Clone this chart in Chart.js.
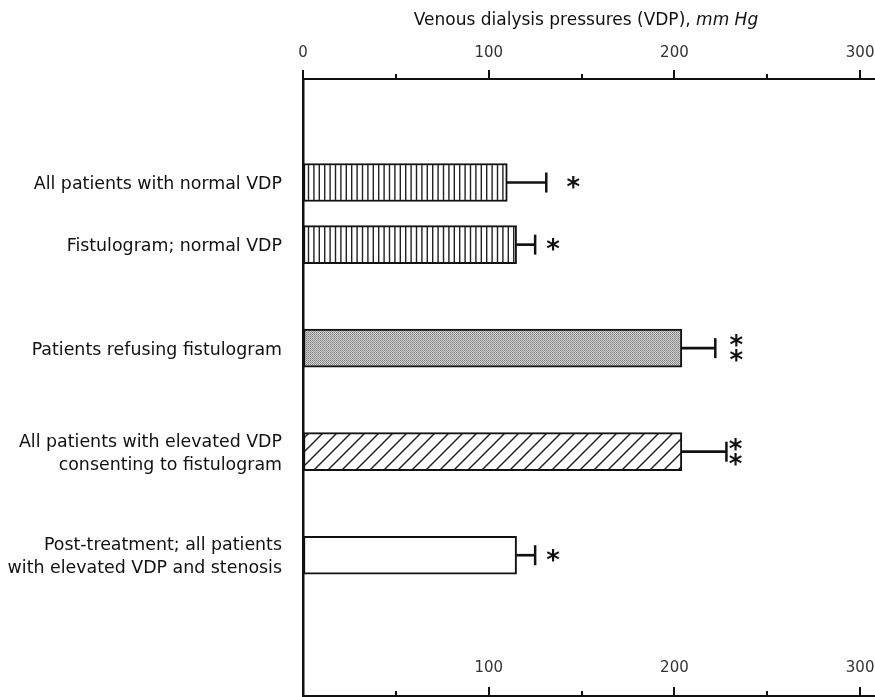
<!DOCTYPE html>
<html><head><meta charset="utf-8">
<script src="https://cdn.jsdelivr.net/npm/chart.js@4.4.1/dist/chart.umd.min.js"></script>
<style>
html,body{margin:0;padding:0;background:#fff;overflow:hidden;}
#wrap{position:relative;width:875px;height:734px;}
#title{position:absolute;left:303px;width:566px;top:9px;text-align:center;font:17px/20px "DejaVu Sans",sans-serif;color:#111;white-space:nowrap;}
canvas{display:block}
</style></head><body>
<div id="wrap">
<canvas id="c" width="875" height="734"></canvas>
<div id="title">Venous dialysis pressures (VDP), <i>mm Hg</i></div>
</div>
<script>
// ---- data ----
const categories = [
  ['All patients with normal VDP'],
  ['Fistulogram; normal VDP'],
  ['Patients refusing fistulogram'],
  ['All patients with elevated VDP', 'consenting to fistulogram'],
  ['Post-treatment; all patients', 'with elevated VDP and stenosis']
];
const meanVDP = [110, 115, 204, 204, 115];
const errorVDP = [21, 10, 18, 24, 10];
const significance = ['*', '*', '**', '**', '*'];
const topTickValues = [0, 100, 200, 300];
const bottomTickValues = [100, 200, 300];
const minorTickValues = [50, 150, 250];

// ---- layout / style ----
const rowPos = [5, 8, 13, 18, 23];
const starGap = [27, 18, 21, 9, 18];
const INK = '#111';

function makePattern(w, h, draw) {
  const c = document.createElement('canvas'); c.width = w; c.height = h;
  const g = c.getContext('2d'); g.fillStyle = '#fff'; g.fillRect(0, 0, w, h); draw(g);
  return document.getElementById('c').getContext('2d').createPattern(c, 'repeat');
}
const vStripes = makePattern(27, 10, g => {
  g.fillStyle = '#222';
  for (let i = 0; i < 5; i++) g.fillRect(i * 5.4, 0, 1.4, 10);
});
const stipple = makePattern(2, 2, g => {
  g.fillStyle = '#7a7a7a'; g.fillRect(0, 0, 1, 1);
  g.fillStyle = '#d2d2d2'; g.fillRect(1, 0, 1, 1); g.fillRect(0, 1, 1, 1);
  g.fillStyle = '#9a9a9a'; g.fillRect(1, 1, 1, 1);
});
const diag = makePattern(14, 14, g => {
  g.strokeStyle = '#222'; g.lineWidth = 1.5;
  g.beginPath(); g.moveTo(-2, 16); g.lineTo(16, -2); g.stroke();
  g.beginPath(); g.moveTo(-16, 16); g.lineTo(2, -2); g.stroke();
  g.beginPath(); g.moveTo(12, 16); g.lineTo(30, -2); g.stroke();
});
const fills = [vStripes, vStripes, stipple, diag, '#fff'];

const noPad = s => { s.paddingLeft = 0; s.paddingRight = 0; s.paddingTop = 0; s.paddingBottom = 0; };

const decor = {
  id: 'decor',
  afterDatasetsDraw(chart) {
    const ctx = chart.ctx, xs = chart.scales.x, xb = chart.scales.x2, ys = chart.scales.y;
    const top = chart.chartArea.top, bot = chart.chartArea.bottom;
    ctx.save();
    ctx.strokeStyle = INK; ctx.lineWidth = 2;
    const tick = (scale, v, y, len) => {
      const px = Math.round(scale.getPixelForValue(v));
      ctx.beginPath(); ctx.moveTo(px, y); ctx.lineTo(px, y - len); ctx.stroke();
    };
    topTickValues.forEach(v => tick(xs, v, top, 9));
    minorTickValues.forEach(v => tick(xs, v, top, 5));
    bottomTickValues.forEach(v => tick(xb, v, bot, 9));
    minorTickValues.forEach(v => tick(xb, v, bot, 5));
    // significance marks
    ctx.fillStyle = INK;
    ctx.font = 'bold 26px "DejaVu Sans"';
    ctx.textAlign = 'center'; ctx.textBaseline = 'alphabetic';
    const m = ctx.measureText('*');
    const off = (m.actualBoundingBoxAscent - m.actualBoundingBoxDescent) / 2;
    significance.forEach((s, i) => {
      const x = xs.getPixelForValue(meanVDP[i] + errorVDP[i]) + starGap[i];
      const yc = ys.getPixelForValue(rowPos[i]);
      const n = s.length;
      for (let k = 0; k < n; k++) {
        const y = yc + (k - (n - 1) / 2) * 15;
        ctx.fillText('*', x, y + off);
      }
    });
    ctx.restore();
  }
};

new Chart(document.getElementById('c'), {
  type: 'bar',
  data: {
    datasets: [
      {
        data: meanVDP.map((v, i) => ({ x: v, y: rowPos[i] })),
        backgroundColor: fills,
        borderColor: INK, borderWidth: 2, borderSkipped: false,
        barThickness: 38, grouped: false, order: 2
      },
      {
        data: meanVDP.map((v, i) => ({ x: [v, v + errorVDP[i]], y: rowPos[i] })),
        backgroundColor: INK, borderWidth: 0,
        barThickness: 2, grouped: false, order: 1
      },
      {
        type: 'scatter',
        data: meanVDP.map((v, i) => ({ x: v + errorVDP[i], y: rowPos[i] })),
        pointStyle: 'line', rotation: 90, radius: 10, hoverRadius: 10,
        borderColor: INK, borderWidth: 2.5, order: 0
      }
    ]
  },
  options: {
    indexAxis: 'y',
    responsive: false,
    animation: false,
    devicePixelRatio: 1,
    layout: { padding: 0, autoPadding: false },
    plugins: { legend: { display: false }, tooltip: { enabled: false } },
    scales: {
      x: {
        type: 'linear', position: 'top', min: 0, max: 308,
        afterBuildTicks: s => { s.ticks = topTickValues.map(v => ({ value: v })); },
        afterFit: s => { s.height = 79; noPad(s); },
        grid: { display: true, drawOnChartArea: false, drawTicks: false },
        border: { display: true, color: INK, width: 2 },
        ticks: { padding: 17, color: '#333', font: { family: '"DejaVu Sans"', size: 15 }, maxRotation: 0 }
      },
      x2: {
        type: 'linear', position: 'bottom', min: 0, max: 308,
        afterBuildTicks: s => { s.ticks = bottomTickValues.map(v => ({ value: v })); },
        afterFit: s => { s.height = 38; noPad(s); },
        grid: { display: true, drawOnChartArea: false, drawTicks: false },
        border: { display: true, color: INK, width: 2 },
        ticks: { mirror: true, padding: 19, color: '#333', font: { family: '"DejaVu Sans"', size: 15 }, maxRotation: 0 }
      },
      y: {
        type: 'linear', position: 'left', reverse: true, min: 0, max: 29.8,
        offset: false,
        afterBuildTicks: s => { s.ticks = rowPos.map(v => ({ value: v })); },
        afterFit: s => { s.width = 303; noPad(s); },
        grid: { display: true, drawOnChartArea: false, drawTicks: false, offset: false },
        border: { display: true, color: INK, width: 2.5 },
        ticks: {
          autoSkip: false, padding: 21, labelOffset: 2, color: '#111',
          font: { family: '"DejaVu Sans"', size: 17.4, lineHeight: 1.3 },
          callback: v => categories[rowPos.indexOf(v)]
        }
      }
    }
  },
  plugins: [decor]
});
</script>
</body></html>
